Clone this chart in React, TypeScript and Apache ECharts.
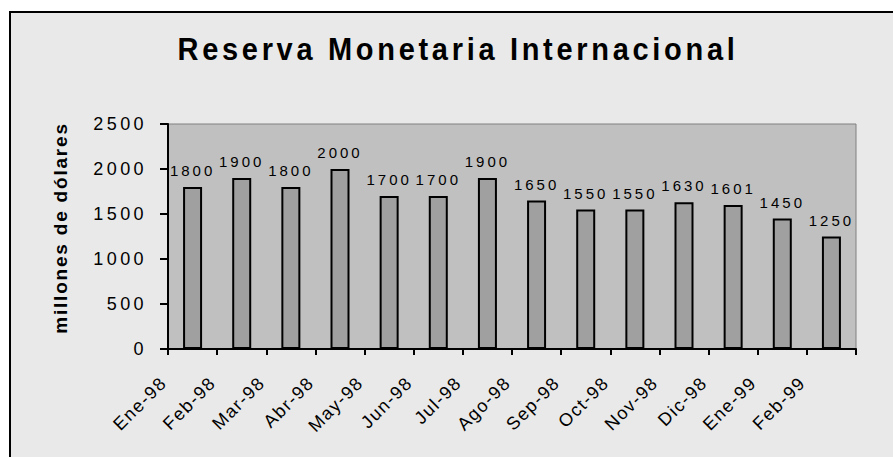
import React, { useEffect, useRef } from "react";
import * as echarts from "echarts";

const titleText = "Reserva Monetaria Internacional";
const yAxisName = "millones de dólares";
const categories = [
  "Ene-98", "Feb-98", "Mar-98", "Abr-98", "May-98", "Jun-98", "Jul-98",
  "Ago-98", "Sep-98", "Oct-98", "Nov-98", "Dic-98", "Ene-99", "Feb-99",
];
const values = [1800, 1900, 1800, 2000, 1700, 1700, 1900, 1650, 1550, 1550, 1630, 1601, 1450, 1250];
const yMin = 0;
const yMax = 2500;
const yInterval = 500;

const FONT = '"Liberation Sans", Arial, sans-serif';

function applySpacing(root: HTMLElement) {
  root.querySelectorAll("text").forEach((t) => {
    const fs = parseFloat(getComputedStyle(t).fontSize || "0");
    const content = t.textContent || "";
    let ls = 0;
    if (fs >= 28) ls = 3.7;
    else if (fs >= 18.5) ls = 1.8;
    else if (fs >= 17.5) ls = content.indexOf("-") >= 0 ? 1.5 : 3.4;
    else if (fs >= 14) ls = 3;
    t.setAttribute("letter-spacing", String(ls));
  });
}

export default function App() {
  const ref = useRef<HTMLDivElement>(null);
  useEffect(() => {
    if (!ref.current) return;
    const el = ref.current;
    const chart = echarts.init(el, undefined, { renderer: "svg" });
    chart.setOption({
      animation: false,
      backgroundColor: "transparent",
      grid: {
        left: 168,
        top: 124,
        right: 37,
        bottom: 108,
        show: true,
        backgroundColor: "#c0c0c0",
        borderColor: "#808080",
        borderWidth: 1,
      },
      graphic: [
        {
          type: "text",
          x: 458,
          y: 48.5,
          scaleY: 1.1,
          style: {
            text: titleText,
            fontSize: 29,
            fontWeight: "bold",
            fontFamily: FONT,
            fill: "#000",
            align: "center",
            verticalAlign: "middle",
          },
        },
        {
          type: "text",
          x: 60.5,
          y: 228,
          rotation: Math.PI / 2,
          style: {
            text: yAxisName,
            fontSize: 19,
            fontWeight: "bold",
            fontFamily: FONT,
            fill: "#000",
            align: "center",
            verticalAlign: "middle",
          },
        },
      ],
      xAxis: {
        type: "category",
        data: categories,
        boundaryGap: true,
        axisLine: { show: true, lineStyle: { color: "#000", width: 2 } },
        axisTick: { show: true, interval: 0, length: 6, lineStyle: { color: "#000", width: 2 } },
        axisLabel: {
          interval: 0,
          rotate: 45,
          margin: 2,
          padding: [0, 41, 0, 0],
          fontSize: 18,
          fontFamily: FONT,
          color: "#000",
        },
        splitLine: { show: false },
      },
      yAxis: {
        type: "value",
        min: yMin,
        max: yMax,
        interval: yInterval,
        axisLine: { show: true, lineStyle: { color: "#000", width: 2 } },
        axisTick: { show: true, length: 8, lineStyle: { color: "#000", width: 2 } },
        axisLabel: {
          margin: 21,
          fontSize: 18,
          fontFamily: FONT,
          color: "#000",
          formatter: (v: number) => String(v),
        },
        splitLine: { show: false },
      },
      series: [
        {
          type: "bar",
          data: values,
          barWidth: 19,
          itemStyle: { color: "#a0a0a0", borderColor: "#000", borderWidth: 2 },
          label: {
            show: true,
            position: "top",
            distance: 9,
            fontSize: 15,
            fontFamily: FONT,
            color: "#000",
          },
        },
      ],
    });
    applySpacing(el);
    const onFinished = () => applySpacing(el);
    chart.on("finished", onFinished);
    const t = setTimeout(() => applySpacing(el), 50);
    return () => {
      clearTimeout(t);
      chart.dispose();
    };
  }, []);
  return (
    <div style={{ position: "fixed", left: 0, top: 0, width: 893, height: 457, background: "#fff", overflow: "hidden" }}>
      <div
        style={{
          position: "absolute",
          left: 9,
          top: 11,
          width: 900,
          height: 460,
          background: "#e9e9e9",
          borderTop: "2px solid #000",
          borderLeft: "2px solid #000",
        }}
      />
      <div ref={ref} style={{ position: "absolute", left: 0, top: 0, width: 893, height: 457 }} />
    </div>
  );
}
